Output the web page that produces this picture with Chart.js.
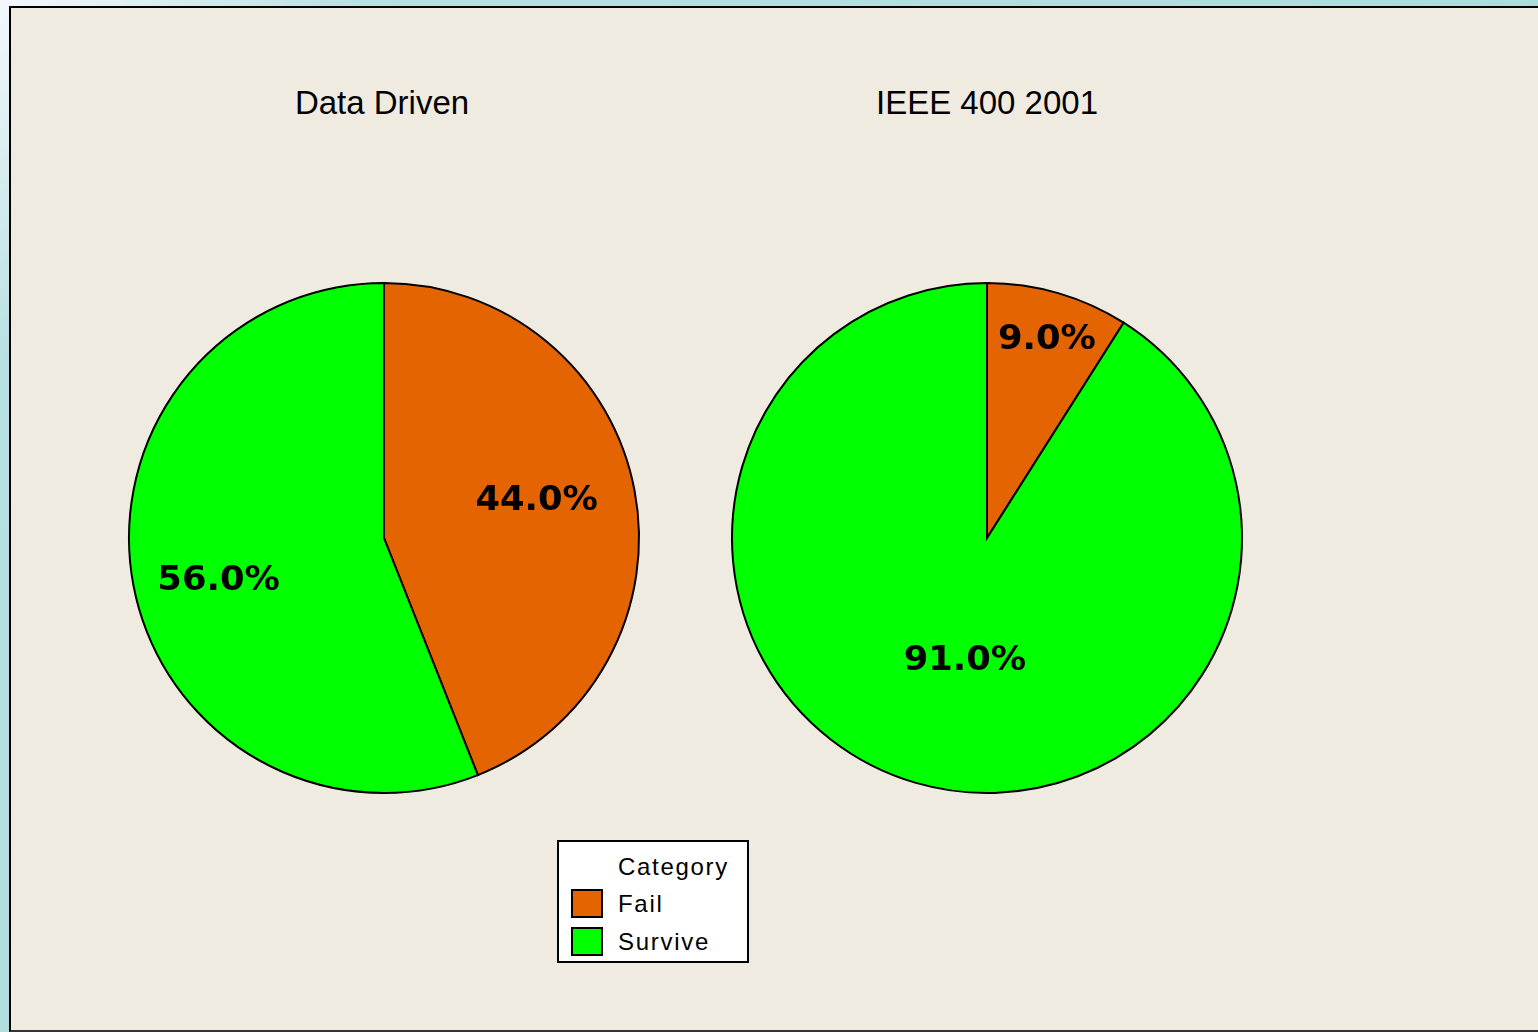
<!DOCTYPE html>
<html>
<head>
<meta charset="utf-8">
<script src="https://cdn.jsdelivr.net/npm/chart.js@4.4.1/dist/chart.umd.min.js"></script>
<style>
  html, body { margin:0; padding:0; }
  body { width:1538px; height:1032px; overflow:hidden; position:relative;
         background: linear-gradient(135deg, #f4f8fc 0px, #b8e0e2 260px, #a9dadb 1500px); }
  #frame { position:absolute; left:9px; top:6px; width:1540px; height:1022px;
           border-left:2px solid #000; border-top:2px solid #000; border-bottom:2px solid #333;
           background:#f0ebe0; }
  .title { position:absolute; top:84px; font-family:"Liberation Sans", Arial, sans-serif;
           font-size:33px; color:#000; transform:translateX(-50%); white-space:nowrap; }
  canvas { position:absolute; }
  #legend { position:absolute; left:557px; top:840px; width:188px; height:119px;
            border:2px solid #000; background:#fff; font-family:"Liberation Sans", Arial, sans-serif;
            font-size:24px; letter-spacing:1.7px; color:#000; }
  #legend .head { position:absolute; left:59px; top:11px; }
  #legend .row { position:absolute; left:12px; height:30px; }
  #legend .sw { position:absolute; left:0; top:0; width:28px; height:25px; border:2px solid #000; }
  #legend .lab { position:absolute; left:47px; top:1px; white-space:nowrap; }
</style>
</head>
<body>
<div id="frame"></div>
<div class="title" style="left:382px">Data Driven</div>
<div class="title" style="left:987px">IEEE 400 2001</div>
<canvas id="c1" width="560" height="560" style="left:104px; top:258px"></canvas>
<canvas id="c2" width="560" height="560" style="left:707px; top:258px"></canvas>
<div id="legend"></div>
<script>
// ---- data ----
const categories = ["Fail", "Survive"];
const chartTitles = ["Data Driven", "IEEE 400 2001"];
const dataDriven = [44.0, 56.0];
const ieee4002001 = [9.0, 91.0];
const legendTitle = "Category";

// ---- styles ----
const sliceColors = ["#e36400", "#00ff00"];

// label placement relative to arc geometry: [fraction of radius, angle offset from slice middle (deg)]
const labelPlacement1 = [[0.62, -4.2], [0.667, -2.7]];
const labelPlacement2 = [[0.823, 0.4], [0.475, -5.7]];

const pctLabelPlugin = {
  id: 'pctLabels',
  afterDatasetsDraw(chart, args, opts) {
    const ctx = chart.ctx;
    const meta = chart.getDatasetMeta(0);
    const data = chart.data.datasets[0].data;
    const total = data.reduce((a, b) => a + b, 0);
    ctx.save();
    ctx.font = "bold 33px 'DejaVu Sans', Verdana, sans-serif";
    if ('letterSpacing' in ctx) ctx.letterSpacing = '0px';
    ctx.fillStyle = '#000';
    ctx.textAlign = 'center';
    ctx.textBaseline = 'alphabetic';
    meta.data.forEach((arc, i) => {
      const p = arc.getProps(['x', 'y', 'startAngle', 'endAngle', 'outerRadius'], true);
      const place = opts.placement[i];
      const mid = (p.startAngle + p.endAngle) / 2 + place[1] * Math.PI / 180;
      const r = p.outerRadius * place[0];
      const x = p.x + Math.cos(mid) * r;
      const y = p.y + Math.sin(mid) * r;
      const txt = (data[i] / total * 100).toFixed(1) + '%';
      const m = ctx.measureText(txt);
      const h = m.actualBoundingBoxAscent;
      ctx.save();
      ctx.translate(x, y + h / 2);
      ctx.scale(1.07, 1);
      ctx.fillText(txt, 0, 0);
      ctx.restore();
    });
    ctx.restore();
  }
};

function makePie(id, values, placement, radius) {
  return new Chart(document.getElementById(id), {
    type: 'pie',
    data: {
      labels: categories,
      datasets: [{
        data: values,
        backgroundColor: sliceColors,
        borderColor: '#000',
        borderWidth: 2,
        borderJoinStyle: 'miter'
      }]
    },
    options: {
      responsive: false,
      animation: false,
      radius: radius,
      layout: { padding: 0 },
      plugins: {
        legend: { display: false },
        tooltip: { enabled: false },
        title: { display: false },
        pctLabels: { placement: placement }
      }
    },
    plugins: [pctLabelPlugin]
  });
}

makePie('c1', dataDriven, labelPlacement1, 255);
makePie('c2', ieee4002001, labelPlacement2, 255);

// legend built from the same arrays
const lg = document.getElementById('legend');
const head = document.createElement('div');
head.className = 'head';
head.textContent = legendTitle;
lg.appendChild(head);
categories.forEach((c, i) => {
  const row = document.createElement('div');
  row.className = 'row';
  row.style.top = (47 + i * 38) + 'px';
  const sw = document.createElement('div');
  sw.className = 'sw';
  sw.style.background = sliceColors[i];
  const lab = document.createElement('div');
  lab.className = 'lab';
  lab.textContent = c;
  row.appendChild(sw);
  row.appendChild(lab);
  lg.appendChild(row);
});
</script>
</body>
</html>
